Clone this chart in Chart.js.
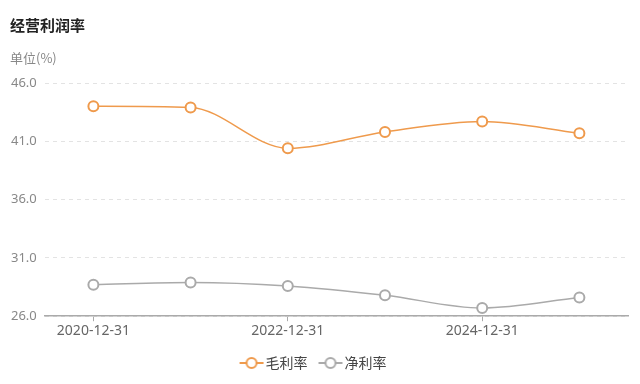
<!DOCTYPE html>
<html>
<head>
<meta charset="utf-8">
<script src="https://cdn.jsdelivr.net/npm/chart.js@4"></script>
<style>
  html, body { margin: 0; padding: 0; background: #fff; }
  #wrap { position: relative; width: 640px; height: 384px; }
  #title { position: absolute; left: 10px; top: 14px; font: bold 15px "Noto Sans CJK SC", sans-serif; color: #222; }
  #unit { position: absolute; left: 10px; top: 48px; font: 13px "Noto Sans CJK SC", sans-serif; color: #888; }
  canvas { position: absolute; left: 0; top: 0; }
</style>
</head>
<body>
<div id="wrap">
  <canvas id="profitChart" width="640" height="384"></canvas>
  <div id="title">经营利润率</div>
  <div id="unit">单位(%)</div>
</div>
<script>
const periods = ['2020-12-31', '2021-12-31', '2022-12-31', '2023-12-31', '2024-12-31', '2025-09-30'];
const grossMargin = [44.0, 43.9, 40.4, 41.8, 42.7, 41.7];
const netMargin = [28.7, 28.9, 28.6, 27.8, 26.7, 27.6];
const yTicks = [26, 31, 36, 41, 46];

const orange = '#ef9a4c';
const gray = '#aaaaaa';

// legend icon: short line with a hollow circle
function legendIcon(color) {
    const c = document.createElement('canvas');
    c.width = 26; c.height = 14;
    const g = c.getContext('2d');
    g.strokeStyle = color;
    g.lineWidth = 2;
    g.beginPath(); g.moveTo(1, 7); g.lineTo(25, 7); g.stroke();
    g.fillStyle = '#fff';
    g.beginPath(); g.arc(13, 7, 5, 0, Math.PI * 2); g.fill(); g.stroke();
    return c;
}

const ctx = document.getElementById('profitChart').getContext('2d');
new Chart(ctx, {
    type: 'line',
    data: {
        labels: periods,
        datasets: [{
            label: '毛利率',
            data: grossMargin,
            borderColor: orange,
            backgroundColor: '#fff',
            borderWidth: 1.5,
            pointRadius: 5,
            pointBorderWidth: 2,
            pointBackgroundColor: '#fff',
            tension: 0.4,
            cubicInterpolationMode: 'monotone'
        }, {
            label: '净利率',
            data: netMargin,
            borderColor: gray,
            backgroundColor: '#fff',
            borderWidth: 1.5,
            pointRadius: 5,
            pointBorderWidth: 2,
            pointBackgroundColor: '#fff',
            tension: 0.4,
            cubicInterpolationMode: 'monotone'
        }]
    },
    options: {
        responsive: false,
        animation: false,
        layout: { padding: { top: 83, left: 3, right: 12, bottom: 4 } },
        scales: {
            x: {
                offset: true,
                border: { color: '#aaa', width: 1.5 },
                grid: { drawOnChartArea: false, drawTicks: true, tickLength: 5, color: '#aaa' },
                ticks: {
                    autoSkip: false,
                    maxRotation: 0,
                    color: '#666',
                    font: { size: 14, family: '"Noto Sans", sans-serif' },
                    padding: 1,
                    callback: function (val, i) { return i % 2 === 0 ? this.getLabelForValue(val) : null; }
                }
            },
            y: {
                min: yTicks[0],
                max: yTicks[yTicks.length - 1],
                afterBuildTicks: axis => { axis.ticks = yTicks.map(v => ({ value: v })); },
                border: { display: false, dash: [4, 4] },
                grid: { color: '#e3e3e3', drawTicks: false },
                ticks: {
                    color: '#888',
                    font: { size: 13, family: '"Noto Sans", sans-serif' },
                    padding: 8,
                    callback: v => v.toFixed(1)
                }
            }
        },
        plugins: {
            legend: {
                position: 'bottom',
                labels: {
                    usePointStyle: true,
                    color: '#444',
                    font: { size: 14, family: '"Noto Sans CJK SC", sans-serif' },
                    padding: 16,
                    generateLabels: chart => chart.data.datasets.map((ds, i) => ({
                        text: ds.label,
                        pointStyle: legendIcon(ds.borderColor),
                        fontColor: '#444',
                        datasetIndex: i,
                        hidden: !chart.isDatasetVisible(i)
                    }))
                }
            },
            tooltip: { enabled: false }
        }
    }
});
</script>
</body>
</html>
